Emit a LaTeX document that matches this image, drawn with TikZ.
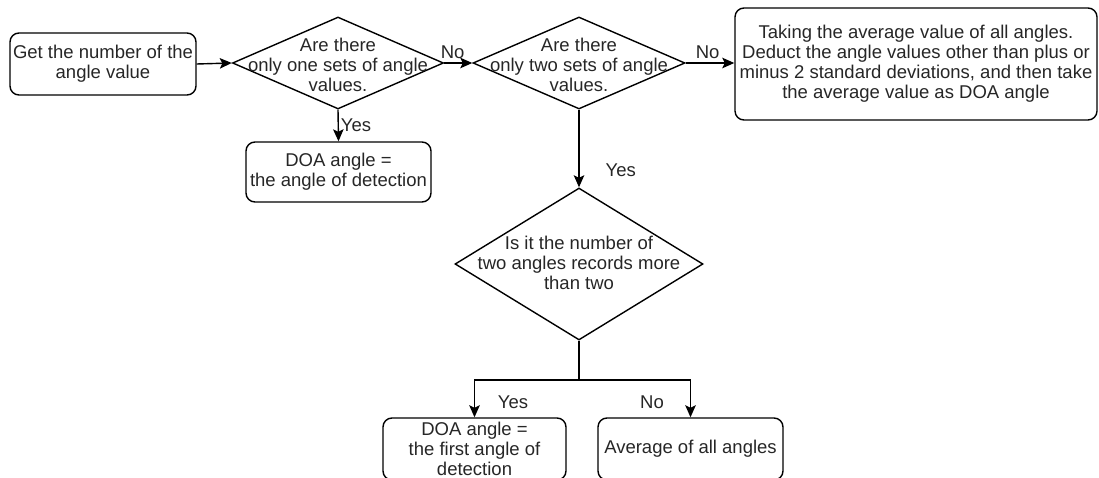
\documentclass[tikz,border=0pt]{standalone}
\usepackage{fontspec}
\setmainfont{Liberation Sans}
\usetikzlibrary{shapes.geometric,arrows.meta}
\begin{document}
\begin{tikzpicture}[x=1pt,y=-1pt,
  every node/.style={font=\fontsize{18.5}{20}\selectfont, text=black!85},
  box/.style={draw, rounded corners=9pt, line width=1.4pt, align=center, inner sep=0pt},
  dia/.style={draw, diamond, line width=1.4pt, inner sep=0pt},
  txt/.style={align=center, inner sep=0pt},
  lbl/.style={inner sep=4pt},
  arr/.style={line width=1.4pt, -{Stealth[length=12pt,width=10.5pt,inset=2.5pt]}},
  ln/.style={line width=1.4pt}]
\useasboundingbox (0,0) rectangle (1099,478);

% process boxes
\node[box, minimum width=186pt, minimum height=62pt] (get) at (103,64)
  {Get the number of the\\angle value};
\node[box, minimum width=362pt, minimum height=112pt] (avgsd) at (916,64)
  {Taking the average value of all angles.\\Deduct the angle values other than plus or\\minus 2 standard deviations, and then take\\the average value as DOA angle};
\node[box, minimum width=185pt, minimum height=60pt] (doa1) at (338.5,172)
  {DOA angle =\\the angle of detection};
\node[box, minimum width=183pt, minimum height=62pt] (doa2) at (474.5,449)
  {DOA angle =\\the first angle of\\detection};
\node[box, minimum width=185pt, minimum height=62pt] (avg) at (690.5,449)
  {Average of all angles};

% decisions
\node[dia, minimum width=211pt, minimum height=92pt] (d1) at (338,63) {};
\node[txt] (d1t) at (338,65) {Are there\\only one sets of angle\\values.};
\node[dia, minimum width=212pt, minimum height=92pt] (d2) at (579,63) {};
\node[txt] (d2t) at (579,65) {Are there\\only two sets of angle\\values.};
\node[dia, minimum width=248pt, minimum height=152pt] (d3) at (579,264) {};
\node[txt] (d3t) at (579,263) {Is it the number of\\two angles records more\\than two};

% connectors
\draw[arr] (get.east) -- (d1.west);
\draw[arr] (d1.east) -- node[lbl, above, pos=0.3] {No} (d2.west);
\draw[arr] (d2.east) -- node[lbl, above, pos=0.45] {No} (d2.east -| avgsd.west);
\draw[arr] (d1.south) -- node[lbl, right, xshift=-2pt] {Yes} (doa1.north);
\draw[arr] (d2.south) -- node[lbl, right, pos=0.78, xshift=22pt] {Yes} (d3.north);
\coordinate (split) at (579,380);
\draw[ln] (d3.south) -- (split);
\draw[arr] (split) -| (doa2.north);
\draw[arr] (split) -| (avg.north);
\node[lbl] (yes3) at (513,402) {Yes};
\node[lbl] (no3) at (652,402) {No};
\end{tikzpicture}
\end{document}
